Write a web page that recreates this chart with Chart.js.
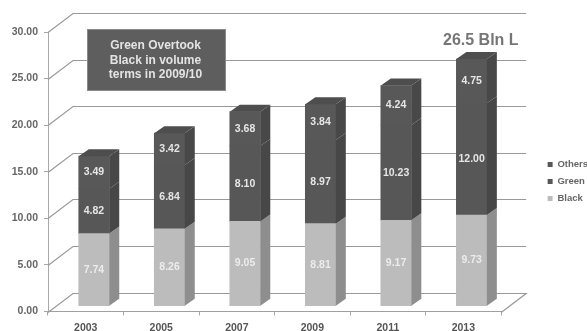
<!DOCTYPE html>
<html>
<head>
<meta charset="utf-8">
<title>Tea volume</title>
<script src="https://cdn.jsdelivr.net/npm/chart.js@4"></script>
<style>
  html, body { margin: 0; padding: 0; background: #fff; overflow: hidden; }
  canvas { display: block; }
</style>
</head>
<body>
<canvas id="grafico" width="587" height="331"></canvas>
<script>
const anos = ["2003", "2005", "2007", "2009", "2011", "2013"];
const black = [7.74, 8.26, 9.05, 8.81, 9.17, 9.73];
const green = [4.82, 6.84, 8.10, 8.97, 10.23, 12.00];
const others = [3.49, 3.42, 3.68, 3.84, 4.24, 4.75];
const caixaTexto = ["Green Overtook", "Black in volume", "terms in 2009/10"];
const totalTexto = "26.5 Bln L";

const FONTE = "'Liberation Sans', Arial, sans-serif";

// depth of the back wall and of each bar, in pixels
const parede = { dx: 25, dy: -19 };
const fundo = { dx: 10, dy: -7 };

const cores = {
  Black: { frente: "#bcbcbc", lado: "#8e8e8e", topo: "#9a9a9a" },
  Green: { frente: "#575757", lado: "#474747", topo: "#4c4c4c" },
  Others: { frente: "#585858", lado: "#484848", topo: "#4e4e4e" },
};

function pontos(vetor) {
  return vetor.map((y, x) => ({ x, y }));
}

function poligono(ctx, lista, cor) {
  ctx.fillStyle = cor;
  ctx.beginPath();
  lista.forEach((p, i) => (i ? ctx.lineTo(p[0], p[1]) : ctx.moveTo(p[0], p[1])));
  ctx.closePath();
  ctx.fill();
}

// back wall, side wall and floor behind the bars
const paredes = {
  id: "paredes",
  beforeDatasetsDraw(chart) {
    const { ctx, chartArea, scales } = chart;
    const esq = chartArea.left;
    const dir = chartArea.right;
    ctx.save();
    ctx.strokeStyle = "#999";
    ctx.lineWidth = 1.2;
    scales.y.ticks.forEach((t, i) => {
      const y = Math.round(scales.y.getPixelForTick(i)) + 0.5;
      ctx.beginPath();
      ctx.moveTo(esq, y);
      ctx.lineTo(esq + parede.dx, y + parede.dy);
      ctx.lineTo(dir + parede.dx, y + parede.dy);
      if (t.value === 0) {
        ctx.lineTo(dir, y);
      }
      ctx.stroke();
    });
    ctx.restore();
  },
};

// side and top faces, then the value inside each segment
const barras3d = {
  id: "barras3d",
  afterDatasetsDraw(chart) {
    const { ctx } = chart;
    ctx.save();
    chart.data.datasets.forEach((ds, d) => {
      const meta = chart.getDatasetMeta(d);
      const cor = cores[ds.label];
      meta.data.forEach((barra) => {
        const meia = barra.width / 2;
        const dir = barra.x + meia;
        const esq = barra.x - meia;
        poligono(ctx, [
          [dir, barra.y],
          [dir + fundo.dx, barra.y + fundo.dy],
          [dir + fundo.dx, barra.base + fundo.dy],
          [dir, barra.base],
        ], cor.lado);
        if (d === chart.data.datasets.length - 1) {
          poligono(ctx, [
            [esq, barra.y],
            [esq + fundo.dx, barra.y + fundo.dy],
            [dir + fundo.dx, barra.y + fundo.dy],
            [dir, barra.y],
          ], cor.topo);
        }
      });
    });
    ctx.font = "bold 10.5px " + FONTE;
    ctx.textAlign = "center";
    ctx.textBaseline = "middle";
    chart.data.datasets.forEach((ds, d) => {
      ctx.fillStyle = ds.label === "Black" ? "#ececec" : "#e6e6e6";
      chart.getDatasetMeta(d).data.forEach((barra, i) => {
        const valor = ds.data[i].y.toFixed(2);
        ctx.fillText(valor, barra.x, (barra.y + barra.base) / 2);
      });
    });
    ctx.restore();
  },
};

// callout box and the total above the last bar
const notas = {
  id: "notas",
  afterDraw(chart) {
    const { ctx } = chart;
    ctx.save();
    ctx.fillStyle = "#5e5e5e";
    ctx.fillRect(88, 30, 137, 60);
    ctx.strokeStyle = "#8a8a8a";
    ctx.strokeRect(87.5, 29.5, 138, 61);
    ctx.fillStyle = "#e4e4e4";
    ctx.font = "bold 12px " + FONTE;
    ctx.textAlign = "center";
    ctx.textBaseline = "middle";
    caixaTexto.forEach((linha, i) => ctx.fillText(linha, 155.5, 45.5 + i * 14.7));
    ctx.fillStyle = "#767676";
    ctx.font = "bold 16px " + FONTE;
    ctx.textAlign = "left";
    ctx.fillText(totalTexto, 443, 40.5);
    ctx.restore();
  },
};

const datasets = [
  { label: "Black", data: pontos(black) },
  { label: "Green", data: pontos(green) },
  { label: "Others", data: pontos(others) },
].map((ds) => ({
  ...ds,
  backgroundColor: cores[ds.label].frente,
  xAxisID: "xBarras",
  yAxisID: "yBarras",
  barThickness: 30.5,
  borderWidth: 0,
}));

new Chart(document.getElementById("grafico"), {
  type: "bar",
  data: { labels: anos, datasets },
  plugins: [paredes, barras3d, notas],
  options: {
    responsive: false,
    animation: false,
    // negative right padding lets the legend sit hard against the edge
    layout: { padding: { top: 32, left: 0, right: -11, bottom: 0 } },
    plugins: {
      tooltip: { enabled: false },
      legend: {
        position: "right",
        reverse: true,
        labels: {
          boxWidth: 5,
          boxHeight: 5,
          padding: 7.5,
          color: "#666",
          font: { family: FONTE, size: 9.5, weight: "bold" },
        },
      },
    },
    scales: {
      x: {
        type: "category",
        offset: true,
        grid: { offset: true, drawOnChartArea: false, tickLength: 4, color: "#a8a8a8" },
        border: { color: "#a0a0a0" },
        ticks: {
          color: "#555",
          padding: 6,
          maxRotation: 0,
          font: { family: FONTE, size: 10.5, weight: "bold" },
        },
        afterFit: (s) => { s.height = 19.5; },
      },
      y: {
        position: "left",
        min: 0,
        max: 30,
        grid: { drawOnChartArea: false, tickLength: 4, color: "#a8a8a8" },
        border: { color: "#a8a8a8" },
        ticks: {
          stepSize: 5,
          color: "#666",
          padding: 6,
          font: { family: FONTE, size: 10.5, weight: "bold" },
          callback: (v) => v.toFixed(2),
        },
        afterFit: (s) => { s.width = 48; },
      },
      // the bars stand a little inside the floor, so they get their own scales
      xBarras: {
        type: "linear",
        display: false,
        stacked: true,
        offset: false,
        min: -0.609,
        max: 5.391,
      },
      yBarras: {
        position: "right",
        stacked: true,
        min: -0.62,
        max: 29.38,
        grid: { display: false },
        border: { display: false },
        ticks: { display: false },
        afterFit: (s) => { s.width = 39; },
      },
    },
  },
});
</script>
</body>
</html>
